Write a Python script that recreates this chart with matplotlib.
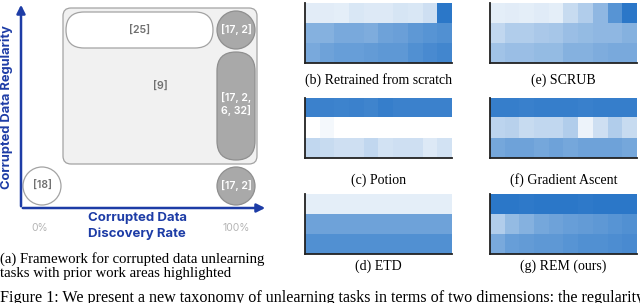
import numpy as np
import matplotlib.pyplot as plt
from matplotlib.colors import LinearSegmentedColormap
from matplotlib.patches import FancyBboxPatch, Circle

# heatmap values (3 rows x 10 columns), 0 = white, 1 = darkest blue
retrained = [[0.13, 0.13, 0.12, 0.17, 0.15, 0.15, 0.18, 0.17, 0.22, 0.95],
             [0.55, 0.55, 0.60, 0.60, 0.58, 0.65, 0.67, 0.72, 0.75, 0.78],
             [0.60, 0.65, 0.68, 0.68, 0.70, 0.72, 0.72, 0.78, 0.82, 0.85]]
scrub = [[0.12, 0.13, 0.12, 0.14, 0.12, 0.25, 0.35, 0.50, 0.75, 0.95],
         [0.28, 0.35, 0.35, 0.38, 0.40, 0.45, 0.48, 0.50, 0.50, 0.55],
         [0.42, 0.45, 0.45, 0.48, 0.48, 0.55, 0.55, 0.58, 0.60, 0.60]]
potion = [[0.88, 0.88, 0.87, 0.88, 0.86, 0.90, 0.88, 0.88, 0.88, 0.88],
          [0.00, 0.05, 0.00, 0.00, 0.00, 0.00, 0.00, 0.00, 0.00, 0.00],
          [0.28, 0.25, 0.22, 0.22, 0.28, 0.20, 0.22, 0.22, 0.15, 0.20]]
grad_ascent = [[0.90, 0.90, 0.89, 0.90, 0.90, 0.90, 0.89, 0.90, 0.90, 0.90],
               [0.30, 0.32, 0.25, 0.28, 0.28, 0.35, 0.08, 0.22, 0.35, 0.25],
               [0.62, 0.65, 0.65, 0.62, 0.65, 0.62, 0.65, 0.65, 0.65, 0.62]]
etd = [[0.12] * 10,
       [0.65] * 10,
       [0.78] * 10]
rem = [[0.95, 0.95, 0.94, 0.95, 0.95, 0.95, 0.94, 0.95, 0.95, 0.95],
       [0.35, 0.48, 0.55, 0.62, 0.65, 0.68, 0.70, 0.72, 0.75, 0.78],
       [0.60, 0.68, 0.70, 0.72, 0.72, 0.75, 0.78, 0.78, 0.80, 0.82]]

panels = [(retrained, "(b) Retrained from scratch"), (potion, "(c) Potion"), (etd, "(d) ETD"),
          (scrub, "(e) SCRUB"), (grad_ascent, "(f) Gradient Ascent"), (rem, "(g) REM (ours)")]

# framework diagram labels
region_labels = ["[25]", "[9]", "[17, 2]", "[17, 2,\n6, 32]", "[18]", "[17, 2]"]
x_ticks = ["0%", "100%"]

caption_a = ["(a) Framework for corrupted data unlearning", "tasks with prior work areas highlighted"]
fig_caption = "Figure 1: We present a new taxonomy of unlearning tasks in terms of two dimensions: the regularity"

W, H = 640, 303
fig = plt.figure(figsize=(W / 100, H / 100), dpi=100)
cmap = LinearSegmentedColormap.from_list("blu", ["#ffffff", "#2171c6"])
serif = "Liberation Serif"
sans = "Inter"

# overlay in pixel coordinates for diagram and captions
ov = fig.add_axes([0, 0, 1, 1])
ov.set_xlim(0, W)
ov.set_ylim(H, 0)
ov.axis("off")

blue = "#1d3ca6"
dark_fill, dark_edge = "#a9a9a9", "#8f8f8f"
light_edge = "#a3a3a3"

ov.add_patch(FancyBboxPatch((63, 8), 194, 156, boxstyle="round,pad=0,rounding_size=8",
                            fc="#f1f1f1", ec=light_edge, lw=0.9))
ov.add_patch(FancyBboxPatch((66, 12), 147, 36, boxstyle="round,pad=0,rounding_size=18",
                            fc="white", ec=light_edge, lw=0.9))
ov.add_patch(FancyBboxPatch((217, 52), 38, 108, boxstyle="round,pad=0,rounding_size=19",
                            fc=dark_fill, ec=dark_edge, lw=0.9))
ov.add_patch(Circle((236, 30), 19, fc=dark_fill, ec=dark_edge, lw=0.9))
ov.add_patch(Circle((42, 186), 19, fc="white", ec=light_edge, lw=0.9))
ov.add_patch(Circle((236, 186), 19, fc=dark_fill, ec=dark_edge, lw=0.9))

label_pos = [(140, 31), (160, 87), (236, 30), (236, 104), (42, 186), (236, 186)]
label_col = ["#707070", "#707070", "white", "white", "#707070", "white"]
for lab, (px, py), c in zip(region_labels, label_pos, label_col):
    ov.text(px, py, lab, ha="center", va="center", fontsize=7.6, color=c,
            family=sans, weight="semibold", linespacing=1.3)

ov.annotate("", xy=(21, 2), xytext=(21, 209),
            arrowprops=dict(arrowstyle="-|>,head_length=0.5,head_width=0.25", color=blue, lw=1.8))
ov.annotate("", xy=(268, 208), xytext=(20, 208),
            arrowprops=dict(arrowstyle="-|>,head_length=0.5,head_width=0.25", color=blue, lw=1.8))
ov.text(7, 107, "Corrupted Data Regularity", rotation=90, ha="center", va="center",
        fontsize=9.3, color=blue, family=sans, weight="bold")
ov.text(137, 226, "Corrupted Data\nDiscovery Rate", ha="center", va="center",
        fontsize=9.5, color=blue, family=sans, weight="bold", linespacing=1.3)
ov.text(40, 228, x_ticks[0], ha="center", va="center", fontsize=7.5, color="#b5b5b5", family=sans)
ov.text(236, 228, x_ticks[1], ha="center", va="center", fontsize=7.5, color="#b5b5b5", family=sans)

ov.text(0, 259, caption_a[0], ha="left", va="center", fontsize=10.6, family=serif)
ov.text(0, 273.5, caption_a[1], ha="left", va="center", fontsize=10.6, family=serif)
ov.text(0, 302.5, fig_caption, ha="left", va="baseline", fontsize=11.6, family=serif)

# heatmaps
col_x = [305, 490]
row_top = [3, 98, 194]
cap_y = [80, 180, 266]
hw, hh = 147, 60
for i, (vals, title) in enumerate(panels):
    c, rr = divmod(i, 3)
    x0, y0 = col_x[c], row_top[rr]
    ax = fig.add_axes([x0 / W, 1 - (y0 + hh) / H, hw / W, hh / H])
    ax.imshow(np.array(vals), cmap=cmap, vmin=0, vmax=1, aspect="auto", interpolation="nearest")
    ax.set_xticks([])
    ax.set_yticks([])
    for s in ["top", "right"]:
        ax.spines[s].set_visible(False)
    for s in ["left", "bottom"]:
        ax.spines[s].set_linewidth(1.3)
        ax.spines[s].set_color("#222222")
    ov.text(x0 + hw / 2, cap_y[rr], title, ha="center", va="center", fontsize=10, family=serif)

fig.savefig("out.png", dpi=100)
